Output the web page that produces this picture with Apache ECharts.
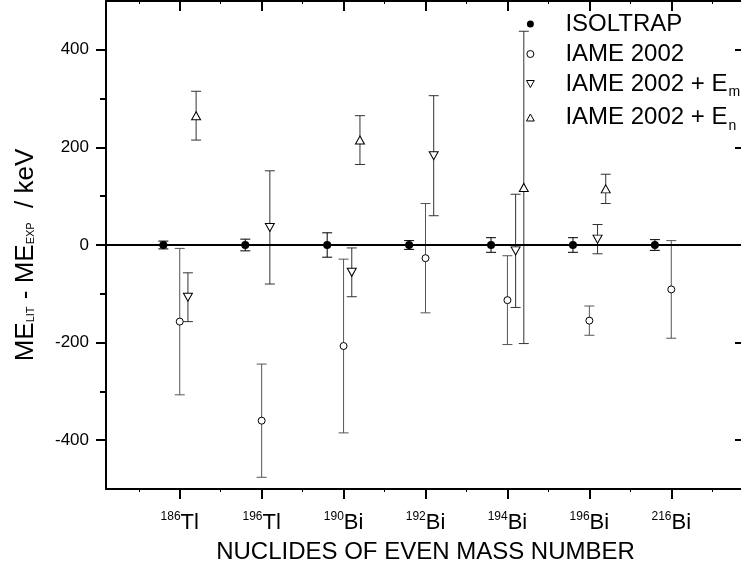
<!DOCTYPE html>
<html>
<head>
<meta charset="utf-8">
<script src="https://cdn.jsdelivr.net/npm/echarts@6/dist/echarts.min.js"></script>
<style>
  html, body { margin: 0; padding: 0; background: #fff; }
  #chart { width: 741px; height: 571px; }
</style>
</head>
<body>
<div id="chart"></div>
<script>
// nuclides (mass number + element) on the x axis
const massNumbers = ['186', '196', '190', '192', '194', '196', '216'];
const elements = ['Tl', 'Tl', 'Bi', 'Bi', 'Bi', 'Bi', 'Bi'];

// ME_LIT - ME_EXP in keV, with the error bar half-widths
const isoltrapVal = [0, 0, 0, 0, 0, 0, 0];
const isoltrapErr = [8, 12, 25, 9, 15, 15, 11];
const iameVal = [-157, -360, -207, -27, -113, -155, -91];
const iameErr = [150, 116, 178, 112, 91, 30, 100];
const iameEmVal = [-107, 36, -56, 183, -12, 12, null];
const iameEmErr = [50, 116, 50, 123, 116, 30, null];
const iameEnVal = [265, null, 215, null, 118, 115, null];
const iameEnErr = [50, null, 50, null, 320, 30, null];

const yLabels = [-400, -200, 0, 200, 400];
const yMinor = [-300, -100, 100, 300];

const sans = "'Liberation Sans', Arial, sans-serif";

const majorX = massNumbers.map((m, i) => i + 1);
const minorX = massNumbers.map((m, i) => i + 0.5).concat([massNumbers.length + 0.5]);

// x = category index shifted a bit so the four data sets sit side by side
const toPoints = (vals, errs, shift) => {
	const out = [];
	vals.forEach((v, i) => {
		if (v === null) return;
		out.push([i + 1 + shift, v, errs[i]]);
	});
	return out;
};

const errorBar = (color) => (params, api) => {
	const x = api.value(0);
	const y = api.value(1);
	const e = api.value(2);
	const hi = api.coord([x, y + e]);
	const lo = api.coord([x, y - e]);
	const w = 5;
	const st = { stroke: color, lineWidth: 1 };
	return {
		type: 'group',
		children: [
			{ type: 'line', shape: { x1: hi[0], y1: hi[1], x2: lo[0], y2: lo[1] }, style: st },
			{ type: 'line', shape: { x1: hi[0] - w, y1: hi[1], x2: hi[0] + w, y2: hi[1] }, style: st },
			{ type: 'line', shape: { x1: lo[0] - w, y1: lo[1], x2: lo[0] + w, y2: lo[1] }, style: st },
		],
	};
};

const triDown = 'path://M0,0 L10,0 L5,9 Z';
const triUp = 'path://M5,0 L10,9 L0,9 Z';

const sets = [
	{ name: 'ISOLTRAP', vals: isoltrapVal, errs: isoltrapErr, shift: -0.2, symbol: 'circle', size: 8, fill: '#000', bar: '#000' },
	{ name: 'IAME 2002', vals: iameVal, errs: iameErr, shift: 0, symbol: 'circle', size: 7, fill: '#fff', bar: '#555' },
	{ name: 'IAME 2002 + Em', vals: iameEmVal, errs: iameEmErr, shift: 0.1, symbol: triDown, size: [9, 8], fill: '#fff', bar: '#333' },
	{ name: 'IAME 2002 + En', vals: iameEnVal, errs: iameEnErr, shift: 0.2, symbol: triUp, size: [9, 8], fill: '#fff', bar: '#333' },
];

const legendIcons = {
	'ISOLTRAP': { icon: 'circle', itemStyle: { color: '#000', borderWidth: 0 } },
	'IAME 2002': { icon: 'circle', itemStyle: { color: '#fff', borderColor: '#000', borderWidth: 1 } },
	'IAME 2002 + Em': { icon: triDown, itemStyle: { color: '#fff', borderColor: '#000', borderWidth: 1 } },
	'IAME 2002 + En': { icon: triUp, itemStyle: { color: '#fff', borderColor: '#000', borderWidth: 1 } },
};

const drawChart = () => {
	const myChart = echarts.init(document.getElementById('chart'), null, { renderer: 'canvas' });
	const series = [];
	sets.forEach((s, k) => {
		const pts = toPoints(s.vals, s.errs, s.shift);
		const bars = {
			name: s.name + ' err',
			type: 'custom',
			xAxisIndex: 0,
			yAxisIndex: 0,
			renderItem: errorBar(s.bar),
			encode: { x: 0, y: 1 },
			data: pts,
			z: 2,
			silent: true,
		};
		if (k === 0) {
			// horizontal line at zero
			bars.markLine = {
				silent: true,
				symbol: 'none',
				label: { show: false },
				lineStyle: { color: '#000', width: 2, type: 'solid' },
				data: [{ yAxis: 0 }],
			};
		}
		series.push(bars);
		series.push({
			name: s.name,
			type: 'scatter',
			xAxisIndex: 0,
			yAxisIndex: 0,
			symbol: s.symbol,
			symbolSize: s.size,
			itemStyle: { color: s.fill, borderColor: '#000', borderWidth: s.fill === '#000' ? 0 : 1, opacity: 1 },
			data: pts.map((p) => [p[0], p[1]]),
			z: 5,
		});
	});

	const option = {
		animation: false,
		backgroundColor: '#fff',
		grid: { left: 106, right: -4, top: 1, bottom: 82, containLabel: false, outerBoundsMode: 'none' },
		legend: {
			orient: 'vertical',
			left: 521,
			top: 7,
			itemWidth: 60,
			itemHeight: 7,
			itemGap: 6,
			selectedMode: false,
			data: sets.map((s) => Object.assign({ name: s.name }, legendIcons[s.name])),
			formatter: (name) => {
				if (name === 'IAME 2002 + Em') return 'IAME 2002 + E{sub|m}';
				if (name === 'IAME 2002 + En') return 'IAME 2002 + E{sub|n}';
				return name;
			},
			textStyle: {
				fontFamily: sans,
				fontSize: 24,
				lineHeight: 23,
				color: '#000',
				rich: {
					sub: { fontFamily: sans, fontSize: 14, color: '#000', padding: [17, 0, 0, 1] },
				},
			},
		},
		xAxis: [
			{
				type: 'value',
				position: 'bottom',
				min: 0.1,
				max: 7.9,
				axisLine: { show: true, onZero: false, lineStyle: { color: '#000', width: 2 } },
				axisTick: { show: true, customValues: majorX, length: 10, lineStyle: { color: '#000', width: 2 } },
				axisLabel: {
					customValues: majorX,
					margin: 22,
					formatter: (v) => {
						const i = Math.round(v) - 1;
						return '{sup|' + massNumbers[i] + '}{el|' + elements[i] + '}';
					},
					rich: {
						sup: { fontFamily: sans, fontSize: 12, color: '#000', padding: [0, 0, 11, 0] },
						el: { fontFamily: sans, fontSize: 22, color: '#000' },
					},
				},
				splitLine: { show: false },
				name: 'NUCLIDES OF EVEN MASS NUMBER',
				nameLocation: 'middle',
				nameGap: 51,
				nameTextStyle: { fontFamily: sans, fontSize: 24, color: '#000' },
			},
			{
				type: 'value',
				position: 'bottom',
				offset: 0,
				min: 0.1,
				max: 7.9,
				axisLine: { show: false, onZero: false },
				axisTick: { show: true, customValues: minorX, length: 3, lineStyle: { color: '#000', width: 1 } },
				axisLabel: { show: false },
				splitLine: { show: false },
			},
			{
				type: 'value',
				position: 'top',
				min: 0.1,
				max: 7.9,
				axisLine: { show: true, onZero: false, lineStyle: { color: '#000', width: 2 } },
				axisTick: { show: true, inside: true, customValues: majorX, length: 10, lineStyle: { color: '#000', width: 2 } },
				axisLabel: { show: false },
				splitLine: { show: false },
			},
			{
				type: 'value',
				position: 'top',
				offset: 0,
				min: 0.1,
				max: 7.9,
				axisLine: { show: false, onZero: false },
				axisTick: { show: true, inside: true, customValues: minorX, length: 3, lineStyle: { color: '#000', width: 1 } },
				axisLabel: { show: false },
				splitLine: { show: false },
			},
		],
		yAxis: [
			{
				type: 'value',
				position: 'left',
				min: -500,
				max: 500,
				interval: 100,
				axisLine: { show: true, onZero: false, lineStyle: { color: '#000', width: 2 } },
				axisTick: { show: true, customValues: yLabels, length: 10, lineStyle: { color: '#000', width: 2 } },
				axisLabel: { customValues: yLabels, margin: 17, fontFamily: sans, fontSize: 17, color: '#000' },
				splitLine: { show: false },
				name: 'ME{sub|LIT} - ME{sub|EXP}  / keV',
				nameLocation: 'middle',
				nameGap: 67,
				nameTextStyle: {
					fontFamily: sans,
					fontSize: 26,
					color: '#000',
					padding: [0, 20, 0, 0],
					rich: {
						sub: { fontFamily: sans, fontSize: 11, color: '#000', padding: [10, 0, 0, 0] },
					},
				},
			},
			{
				type: 'value',
				position: 'left',
				offset: 0,
				min: -500,
				max: 500,
				interval: 100,
				axisLine: { show: false, onZero: false },
				axisTick: { show: true, customValues: yMinor, length: 6, lineStyle: { color: '#000', width: 2 } },
				axisLabel: { show: false },
				splitLine: { show: false },
			},
			{
				type: 'value',
				position: 'right',
				min: -500,
				max: 500,
				interval: 100,
				axisLine: { show: true, onZero: false, lineStyle: { color: '#000', width: 2 } },
				axisTick: { show: true, inside: true, customValues: yLabels, length: 10, lineStyle: { color: '#000', width: 2 } },
				axisLabel: { show: false },
				splitLine: { show: false },
			},
		],
		series: series,
	};
	myChart.setOption(option);
};

drawChart();
</script>
</body>
</html>
